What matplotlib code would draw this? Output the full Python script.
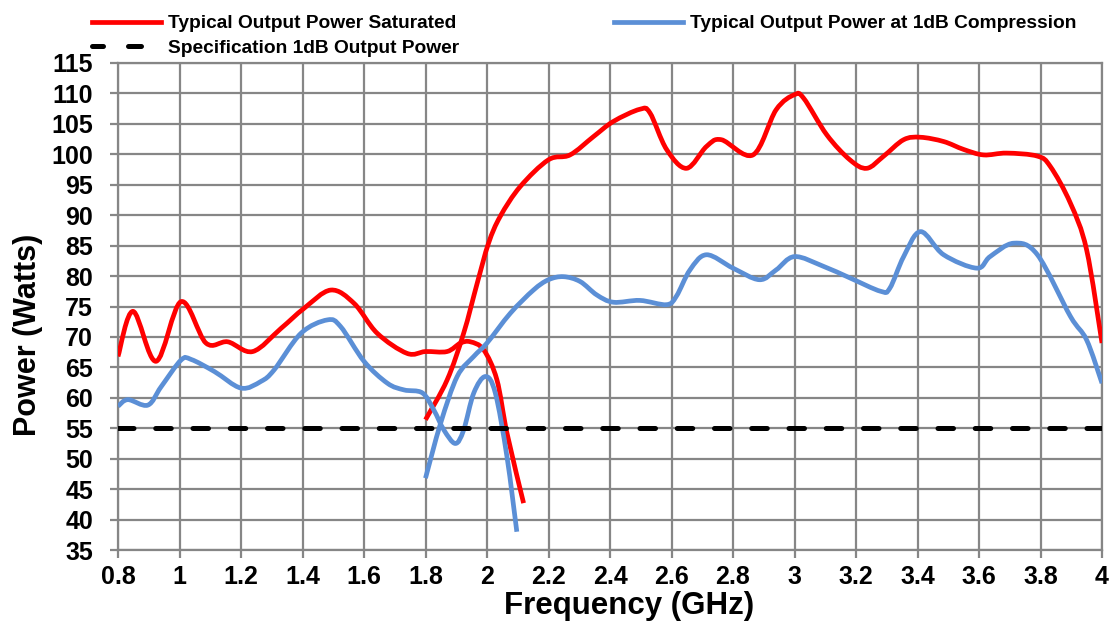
import numpy as np
import matplotlib
matplotlib.use("Agg")
import matplotlib.pyplot as plt
from matplotlib.path import Path
from matplotlib.patches import PathPatch
from matplotlib.lines import Line2D

plt.rcParams['font.family'] = ['Liberation Sans', 'DejaVu Sans']
plt.rcParams['font.weight'] = 'bold'

# saturated power, low band (0.8 - 2.1 GHz)
sat_lo_f = [0.80, 0.849, 0.924, 1.005, 1.086, 1.157, 1.238, 1.33, 1.405, 1.492, 1.568,
            1.643, 1.74, 1.80, 1.87, 1.914, 1.946, 1.989, 2.032, 2.065, 2.119]
sat_lo_p = [66.8, 74.2, 66.0, 75.8, 69.0, 69.2, 67.6, 71.4, 74.7, 77.7, 75.5,
            70.6, 67.3, 67.6, 67.6, 69.0, 69.2, 67.9, 63.0, 54.2, 42.7]
# saturated power, high band (1.8 - 4 GHz)
sat_hi_f = [1.80, 1.87, 1.924, 1.968, 2.005, 2.043, 2.108, 2.20, 2.27, 2.346, 2.411,
            2.497, 2.53, 2.584, 2.649, 2.714, 2.762, 2.865, 2.94, 3.0, 3.03, 3.105,
            3.18, 3.235, 3.29, 3.355, 3.41, 3.485, 3.55, 3.615, 3.69, 3.79, 3.832,
            3.897, 3.95, 4.0]
sat_hi_p = [56.4, 62.9, 70.6, 78.8, 85.4, 89.8, 94.7, 99.1, 99.9, 102.9, 105.4,
            107.4, 106.8, 100.8, 97.7, 101.3, 102.4, 99.9, 107.3, 109.8, 109.2, 103.2,
            99.1, 97.7, 99.7, 102.4, 102.8, 102.1, 100.8, 99.9, 100.2, 99.7, 98.0,
            92.0, 84.3, 69.0]
# 1dB compression power, low band
p1_lo_f = [0.80, 0.832, 0.897, 0.94, 1.005, 1.038, 1.114, 1.20, 1.265, 1.308, 1.395,
           1.481, 1.524, 1.60, 1.676, 1.73, 1.79, 1.827, 1.86, 1.897, 1.924, 1.957,
           1.995, 2.027, 2.065, 2.097]
p1_lo_p = [58.6, 59.7, 58.8, 61.8, 66.2, 66.3, 64.3, 61.6, 62.7, 64.6, 70.6,
           72.8, 71.7, 66.0, 62.4, 61.3, 60.8, 58.0, 54.7, 52.5, 54.7, 60.8,
           63.5, 60.8, 50.3, 38.0]
# 1dB compression power, high band
p1_hi_f = [1.80, 1.849, 1.903, 1.957, 2.0, 2.076, 2.151, 2.20, 2.249, 2.303, 2.357,
           2.411, 2.497, 2.584, 2.616, 2.66, 2.714, 2.80, 2.886, 2.94, 3.0, 3.094,
           3.18, 3.28, 3.31, 3.355, 3.41, 3.485, 3.593, 3.636, 3.713, 3.79, 3.897,
           3.95, 4.0]
p1_hi_p = [46.8, 55.8, 63.5, 66.8, 69.0, 73.9, 77.7, 79.4, 79.9, 79.1, 76.9,
           75.7, 76.0, 75.3, 76.7, 81.0, 83.5, 81.3, 79.4, 81.0, 83.2, 81.6,
           79.7, 77.5, 78.0, 83.2, 87.3, 83.5, 81.3, 83.2, 85.4, 83.5, 73.4,
           69.5, 62.4]
spec_level = 55

x_ticks = [0.8, 1, 1.2, 1.4, 1.6, 1.8, 2, 2.2, 2.4, 2.6, 2.8, 3, 3.2, 3.4, 3.6, 3.8, 4]
x_labels = ['0.8', '1', '1.2', '1.4', '1.6', '1.8', '2', '2.2', '2.4', '2.6', '2.8',
            '3', '3.2', '3.4', '3.6', '3.8', '4']
y_ticks = list(range(35, 116, 5))

RED = '#ff0000'
BLUE = '#5b8fd6'
GRID = '#868686'


def smooth_path(xs, ys):
    # excel style smoothed line: cubic bezier through the points
    pts = np.column_stack([xs, ys])
    n = len(pts)
    verts = [pts[0]]
    codes = [Path.MOVETO]
    for i in range(n - 1):
        p0 = pts[max(i - 1, 0)]
        p1 = pts[i]
        p2 = pts[i + 1]
        p3 = pts[min(i + 2, n - 1)]
        verts += [p1 + (p2 - p0) / 6, p2 - (p3 - p1) / 6, p2]
        codes += [Path.CURVE4] * 3
    return Path(verts, codes)


fig = plt.figure(figsize=(11.11, 6.21), dpi=100)
ax = fig.add_axes([118 / 1111, 1 - 550 / 621, 984 / 1111, 487 / 621])

for xs, ys, col in [(sat_lo_f, sat_lo_p, RED), (sat_hi_f, sat_hi_p, RED),
                    (p1_lo_f, p1_lo_p, BLUE), (p1_hi_f, p1_hi_p, BLUE)]:
    ax.add_patch(PathPatch(smooth_path(xs, ys), facecolor='none', edgecolor=col,
                           lw=3.4, capstyle='butt', joinstyle='round', zorder=3))

ax.plot([0.8, 4.0], [spec_level, spec_level], color='black', lw=3.6,
        dashes=(3.1, 4.35), dash_capstyle='round', zorder=4)

ax.set_xlim(0.8, 4.0)
ax.set_ylim(35, 115)
ax.set_xticks(x_ticks)
ax.set_xticklabels(x_labels)
ax.set_yticks(y_ticks)
ax.grid(True, color=GRID, lw=1.6, zorder=1)
ax.set_axisbelow(True)
for s in ax.spines.values():
    s.set_color(GRID)
    s.set_linewidth(1.6)
ax.tick_params(axis='both', colors=GRID, width=1.6, length=6, labelcolor='black',
               labelsize=18)
ax.tick_params(axis='x', pad=5)
ax.tick_params(axis='y', pad=12)

ax.set_xlabel('Frequency (GHz)', fontsize=22.5, fontweight='bold')
ax.xaxis.set_label_coords((629 - 118) / 984, (550 - 606) / 487)
ax.xaxis.label.set_va('center')
ax.set_ylabel('Power (Watts)', fontsize=22, fontweight='bold')
ax.yaxis.set_label_coords((28 - 118) / 984, (550 - 335) / 487)
ax.yaxis.label.set_va('center')

handles = [Line2D([], [], color=RED, lw=3.4),
           Line2D([], [], color='black', lw=3.6, linestyle=(0.4, (2.6, 5.0)),
                  dash_capstyle='round'),
           Line2D([], [], color=BLUE, lw=3.4)]
labels = ['Typical Output Power Saturated', 'Specification 1dB Output Power',
          'Typical Output Power at 1dB Compression']
fig.legend(handles, labels, loc='upper left', bbox_to_anchor=(92 / 1111, 1 - 15 / 621),
           ncol=2, frameon=False, fontsize=13.8, handlelength=3.6, handletextpad=0.35,
           columnspacing=8.1, labelspacing=0.38, borderpad=0, borderaxespad=0)

fig.savefig('out.png', dpi=100)
